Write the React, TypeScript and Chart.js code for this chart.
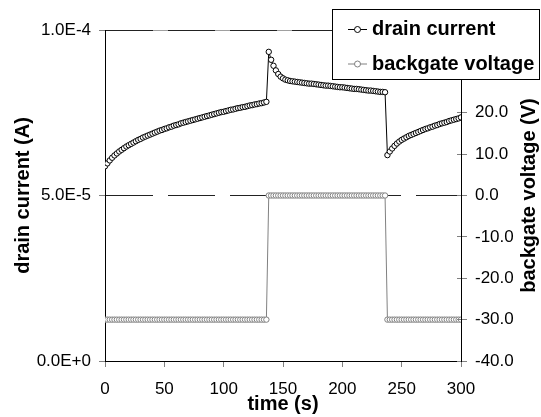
import React, { useEffect, useRef } from 'react';
import { Chart, registerables } from 'chart.js';

Chart.register(...registerables);

const FONT = 'Arial, "Liberation Sans", sans-serif';

const times = [
  0, 2, 4, 6, 8, 10, 12, 14, 16, 18,
  20, 22, 24, 26, 28, 30, 32, 34, 36, 38,
  40, 42, 44, 46, 48, 50, 52, 54, 56, 58,
  60, 62, 64, 66, 68, 70, 72, 74, 76, 78,
  80, 82, 84, 86, 88, 90, 92, 94, 96, 98,
  100, 102, 104, 106, 108, 110, 112, 114, 116, 118,
  120, 122, 124, 126, 128, 130, 132, 134, 136, 138,
  140, 142, 144, 146, 148, 150, 152, 154, 156, 158,
  160, 162, 164, 166, 168, 170, 172, 174, 176, 178,
  180, 182, 184, 186, 188, 190, 192, 194, 196, 198,
  200, 202, 204, 206, 208, 210, 212, 214, 216, 218,
  220, 222, 224, 226, 228, 230, 232, 234, 236, 238,
  240, 242, 244, 246, 248, 250, 252, 254, 256, 258,
  260, 262, 264, 266, 268, 270, 272, 274, 276, 278,
  280, 282, 284, 286, 288, 290, 292, 294, 296, 298,
  300,
];

// drain current in A
const drainCurrent = [
  // 0 .. 136 s
  5.88e-5, 5.97e-5, 6.06e-5, 6.14e-5, 6.21e-5, 6.27e-5, 6.33e-5, 6.38e-5, 6.43e-5, 6.48e-5,
  6.52e-5, 6.56e-5, 6.60e-5, 6.64e-5, 6.68e-5, 6.71e-5, 6.75e-5, 6.78e-5, 6.81e-5, 6.84e-5,
  6.87e-5, 6.90e-5, 6.93e-5, 6.96e-5, 6.98e-5, 7.01e-5, 7.03e-5, 7.06e-5, 7.08e-5, 7.11e-5,
  7.13e-5, 7.15e-5, 7.18e-5, 7.20e-5, 7.22e-5, 7.24e-5, 7.26e-5, 7.28e-5, 7.30e-5, 7.32e-5,
  7.34e-5, 7.36e-5, 7.38e-5, 7.40e-5, 7.42e-5, 7.44e-5, 7.46e-5, 7.48e-5, 7.50e-5, 7.52e-5,
  7.53e-5, 7.55e-5, 7.57e-5, 7.59e-5, 7.60e-5, 7.62e-5, 7.64e-5, 7.65e-5, 7.67e-5, 7.68e-5,
  7.70e-5, 7.72e-5, 7.73e-5, 7.75e-5, 7.76e-5, 7.78e-5, 7.79e-5, 7.81e-5, 7.83e-5,
  // 138 .. 236 s
  9.34e-5, 9.10e-5, 8.92e-5, 8.78e-5, 8.67e-5, 8.59e-5, 8.54e-5, 8.50e-5, 8.48e-5, 8.46e-5,
  8.45e-5, 8.44e-5, 8.43e-5, 8.42e-5, 8.41e-5, 8.40e-5, 8.39e-5, 8.38e-5, 8.38e-5, 8.37e-5,
  8.36e-5, 8.35e-5, 8.34e-5, 8.33e-5, 8.32e-5, 8.32e-5, 8.31e-5, 8.30e-5, 8.29e-5, 8.28e-5,
  8.27e-5, 8.27e-5, 8.26e-5, 8.25e-5, 8.24e-5, 8.23e-5, 8.22e-5, 8.22e-5, 8.21e-5, 8.20e-5,
  8.19e-5, 8.18e-5, 8.17e-5, 8.17e-5, 8.16e-5, 8.15e-5, 8.14e-5, 8.13e-5, 8.13e-5, 8.12e-5,
  // 238 .. 300 s
  6.22e-5, 6.33e-5, 6.42e-5, 6.50e-5, 6.57e-5, 6.63e-5, 6.68e-5, 6.72e-5, 6.76e-5, 6.80e-5,
  6.83e-5, 6.86e-5, 6.89e-5, 6.92e-5, 6.95e-5, 6.98e-5, 7.01e-5, 7.03e-5, 7.06e-5, 7.08e-5,
  7.11e-5, 7.13e-5, 7.16e-5, 7.18e-5, 7.20e-5, 7.22e-5, 7.25e-5, 7.27e-5, 7.29e-5, 7.31e-5,
  7.33e-5, 7.36e-5,
];

// backgate voltage in V
const backgateVoltage = [
  // 0 .. 136 s
  -30, -30, -30, -30, -30, -30, -30, -30, -30, -30,
  -30, -30, -30, -30, -30, -30, -30, -30, -30, -30,
  -30, -30, -30, -30, -30, -30, -30, -30, -30, -30,
  -30, -30, -30, -30, -30, -30, -30, -30, -30, -30,
  -30, -30, -30, -30, -30, -30, -30, -30, -30, -30,
  -30, -30, -30, -30, -30, -30, -30, -30, -30, -30,
  -30, -30, -30, -30, -30, -30, -30, -30, -30,
  // 138 .. 236 s
  0, 0, 0, 0, 0, 0, 0, 0, 0, 0,
  0, 0, 0, 0, 0, 0, 0, 0, 0, 0,
  0, 0, 0, 0, 0, 0, 0, 0, 0, 0,
  0, 0, 0, 0, 0, 0, 0, 0, 0, 0,
  0, 0, 0, 0, 0, 0, 0, 0, 0, 0,
  // 238 .. 300 s
  -30, -30, -30, -30, -30, -30, -30, -30, -30, -30,
  -30, -30, -30, -30, -30, -30, -30, -30, -30, -30,
  -30, -30, -30, -30, -30, -30, -30, -30, -30, -30,
  -30, -30,
];

const xTicks = [0, 50, 100, 150, 200, 250, 300];
const leftTicks = [0, 5e-5, 1e-4];
const rightTicks = [-40, -30, -20, -10, 0, 10, 20, 30, 40];

const seriesNames = ['drain current', 'backgate voltage'];
const seriesColors = ['#000000', '#808080'];
const xTitle = 'time (s)';
const leftTitle = 'drain current (A)';
const rightTitle = 'backgate voltage (V)';

const overlayPlugin = {
  id: 'overlay',
  beforeDraw(chart: any) {
    const { ctx, chartArea: a } = chart;
    ctx.save();
    ctx.strokeStyle = '#a0a0a0';
    ctx.lineWidth = 1;
    ctx.beginPath();
    ctx.moveTo(a.left, Math.floor(a.top) + 0.5);
    ctx.lineTo(a.right, Math.floor(a.top) + 0.5);
    ctx.stroke();
    ctx.restore();
  },
  afterDatasetsDraw(chart: any) {
    // inner half of the right-axis tick marks (they cross the axis)
    const { ctx } = chart;
    const s = chart.scales.y1;
    ctx.save();
    ctx.strokeStyle = '#808080';
    ctx.lineWidth = 1;
    ctx.beginPath();
    s.ticks.forEach((t: any) => {
      const y = Math.floor(s.getPixelForValue(t.value)) + 0.5;
      ctx.moveTo(s.left - 4, y);
      ctx.lineTo(s.left, y);
    });
    ctx.stroke();
    ctx.restore();
  },
  afterDraw(chart: any) {
    const { ctx, chartArea: a } = chart;
    ctx.save();
    // right axis title, reading bottom to top
    ctx.translate(529, (a.top + a.bottom) / 2);
    ctx.rotate(-Math.PI / 2);
    ctx.font = `bold 20px ${FONT}`;
    ctx.fillStyle = '#000';
    ctx.textAlign = 'center';
    ctx.textBaseline = 'middle';
    ctx.fillText(rightTitle, 0, 0);
    ctx.restore();

    // legend box
    ctx.save();
    ctx.fillStyle = '#fff';
    ctx.fillRect(332, 9, 208, 71);
    ctx.strokeStyle = '#000';
    ctx.lineWidth = 1;
    ctx.strokeRect(332.5, 9.5, 207, 70);
    const rows = [29.5, 64];
    seriesNames.forEach((name, i) => {
      const y = rows[i];
      ctx.strokeStyle = seriesColors[i];
      ctx.lineWidth = 1;
      ctx.beginPath();
      ctx.moveTo(348, y);
      ctx.lineTo(367, y);
      ctx.stroke();
      ctx.beginPath();
      ctx.arc(357.5, y, 3, 0, Math.PI * 2);
      ctx.fillStyle = '#fff';
      ctx.fill();
      ctx.stroke();
      ctx.fillStyle = '#000';
      ctx.font = `bold 20px ${FONT}`;
      ctx.textAlign = 'left';
      ctx.textBaseline = 'middle';
      ctx.fillText(name, 372, y);
    });
    ctx.restore();
  },
};

export default function App() {
  const canvasRef = useRef<HTMLCanvasElement | null>(null);

  useEffect(() => {
    const canvas = canvasRef.current;
    if (!canvas) return;
    Chart.defaults.color = '#000';
    Chart.defaults.font.family = FONT;

    const tickFont = { family: FONT, size: 17 };
    const titleFont = { family: FONT, size: 20, weight: 'bold' as const };

    const chart = new Chart(canvas, {
      type: 'line',
      data: {
        datasets: [
          {
            label: seriesNames[0],
            data: times.map((t, i) => ({ x: t, y: drainCurrent[i] })),
            yAxisID: 'y',
            borderColor: seriesColors[0],
            borderWidth: 1,
            pointRadius: 2.7,
            pointBorderWidth: 1,
            pointBackgroundColor: '#ffffff',
            pointBorderColor: seriesColors[0],
            tension: 0,
            fill: false,
          },
          {
            label: seriesNames[1],
            data: times.map((t, i) => ({ x: t, y: backgateVoltage[i] })),
            yAxisID: 'y1',
            borderColor: seriesColors[1],
            borderWidth: 1,
            pointRadius: 2.7,
            pointBorderWidth: 1,
            pointBackgroundColor: '#ffffff',
            pointBorderColor: seriesColors[1],
            tension: 0,
            fill: false,
          },
        ],
      },
      options: {
        responsive: false,
        animation: false,
        devicePixelRatio: 1,
        events: [],
        layout: { padding: { top: 30, left: 0, right: 0, bottom: 0 } },
        plugins: { legend: { display: false }, tooltip: { enabled: false } },
        scales: {
          x: {
            type: 'linear',
            position: 'bottom',
            min: 0,
            max: 300,
            afterBuildTicks: (s: any) => {
              s.ticks = xTicks.map((v) => ({ value: v }));
            },
            afterFit: (s: any) => {
              s.height = 56;
            },
            ticks: { font: tickFont, color: '#000', padding: 12, maxRotation: 0, autoSkip: false },
            grid: { drawOnChartArea: false, drawTicks: true, tickLength: 6, tickColor: '#808080' },
            border: { color: '#000', width: 1 },
            title: { display: true, text: xTitle, font: titleFont, color: '#000', padding: { top: 0, bottom: 1 } },
          },
          y: {
            type: 'linear',
            position: 'left',
            min: 0,
            max: 1e-4,
            afterBuildTicks: (s: any) => {
              s.ticks = leftTicks.map((v) => ({ value: v }));
            },
            afterFit: (s: any) => {
              s.width = 105;
            },
            ticks: {
              font: tickFont,
              color: '#000',
              padding: 8,
              callback: (v: any) => Number(v).toExponential(1).toUpperCase(),
            },
            grid: { drawOnChartArea: true, color: '#222', lineWidth: 1, tickLength: 6, tickColor: '#808080' },
            border: { color: '#000', width: 1, dash: [47, 15] },
            title: { display: true, text: leftTitle, font: titleFont, color: '#000', padding: { top: 11, bottom: 0 } },
          },
          y1: {
            type: 'linear',
            position: 'right',
            min: -40,
            max: 40,
            afterBuildTicks: (s: any) => {
              s.ticks = rightTicks.map((v) => ({ value: v }));
            },
            afterFit: (s: any) => {
              s.width = 80;
            },
            ticks: {
              font: tickFont,
              color: '#000',
              padding: 8,
              callback: (v: any) => Number(v).toFixed(1),
            },
            grid: { drawOnChartArea: false, tickLength: 6, tickColor: '#808080' },
            border: { color: '#000', width: 1 },
          },
        },
      } as any,
      plugins: [overlayPlugin],
    });

    return () => chart.destroy();
  }, []);

  return (
    <div style={{ position: 'absolute', left: 0, top: 0, width: 541, height: 417, background: '#fff' }}>
      <canvas ref={canvasRef} width={541} height={417} style={{ display: 'block' }} />
    </div>
  );
}
